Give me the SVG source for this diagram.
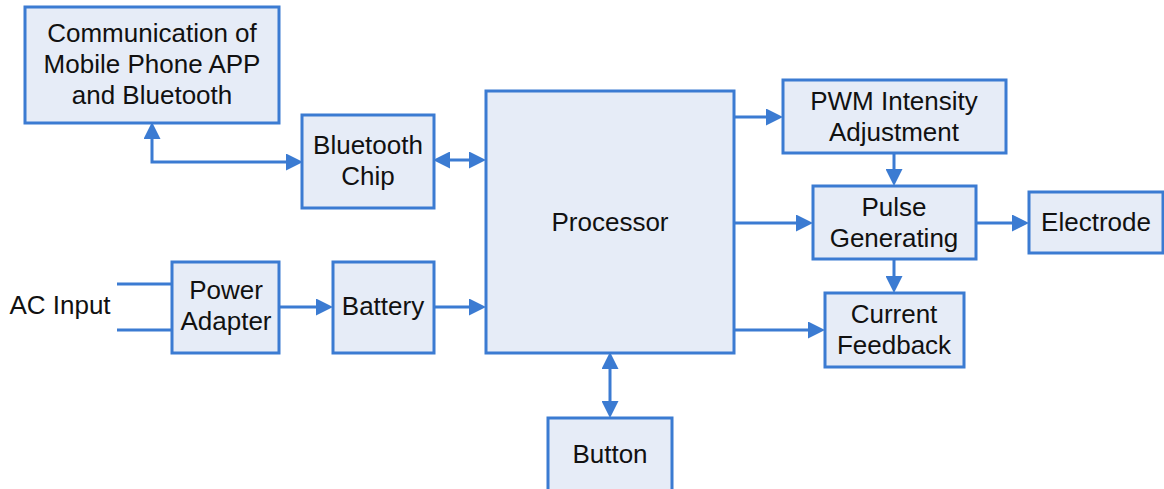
<svg xmlns="http://www.w3.org/2000/svg" width="1164" height="489" viewBox="0 0 1164 489">
<style>
.box{fill:#e6ecf7;stroke:#3b7bd2;stroke-width:3}
.lbl{font-family:"Liberation Sans",Arial,sans-serif;font-size:26px;fill:#111;text-anchor:middle}
.con{fill:none;stroke:#3b7bd2;stroke-width:3}
</style>
<defs>
<marker id="ah" markerUnits="userSpaceOnUse" markerWidth="17" markerHeight="17" refX="8" refY="8.5" orient="auto-start-reverse">
<path d="M0,0 L17,8.5 L0,17 z" fill="#3b7bd2"/>
</marker>
</defs>
<rect width="1164" height="489" fill="#fff"/>
<g id="connectors">
<path class="con" d="M152,131 V162 H294" marker-start="url(#ah)" marker-end="url(#ah)"/>
<path class="con" d="M442,160 H477" marker-start="url(#ah)" marker-end="url(#ah)"/>
<path class="con" d="M610,361 V409" marker-start="url(#ah)" marker-end="url(#ah)"/>
<path class="con" d="M117,284 H172 M117,330 H172"/>
<path class="con" d="M279,307 H324" marker-end="url(#ah)"/>
<path class="con" d="M434,307 H477" marker-end="url(#ah)"/>
<path class="con" d="M734,117 H774" marker-end="url(#ah)"/>
<path class="con" d="M894,153 V177" marker-end="url(#ah)"/>
<path class="con" d="M734,223 H804" marker-end="url(#ah)"/>
<path class="con" d="M976,223 H1020" marker-end="url(#ah)"/>
<path class="con" d="M894,259 V284" marker-end="url(#ah)"/>
<path class="con" d="M734,330 H816" marker-end="url(#ah)"/>
</g>
<g id="comm">
<rect class="box" x="25" y="7" width="254" height="116"/>
<text class="lbl" x="152" y="42">Communication of</text>
<text class="lbl" x="152" y="73">Mobile Phone APP</text>
<text class="lbl" x="152" y="104">and Bluetooth</text>
</g>
<g id="btchip">
<rect class="box" x="302" y="115" width="132" height="93"/>
<text class="lbl" x="368" y="154">Bluetooth</text>
<text class="lbl" x="368" y="185">Chip</text>
</g>
<g id="processor">
<rect class="box" x="486" y="91" width="248" height="262"/>
<text class="lbl" x="610" y="231">Processor</text>
</g>
<g id="acinput">
<text class="lbl" x="60" y="314">AC Input</text>
</g>
<g id="adapter">
<rect class="box" x="172" y="262" width="107" height="91"/>
<text class="lbl" x="226" y="299">Power</text>
<text class="lbl" x="226" y="330">Adapter</text>
</g>
<g id="battery">
<rect class="box" x="333" y="262" width="101" height="91"/>
<text class="lbl" x="383" y="315">Battery</text>
</g>
<g id="button">
<rect class="box" x="548" y="418" width="124" height="80"/>
<text class="lbl" x="610" y="463">Button</text>
</g>
<g id="pwm">
<rect class="box" x="783" y="80" width="223" height="73"/>
<text class="lbl" x="894" y="110">PWM Intensity</text>
<text class="lbl" x="894" y="141">Adjustment</text>
</g>
<g id="pulse">
<rect class="box" x="813" y="186" width="163" height="73"/>
<text class="lbl" x="894" y="216">Pulse</text>
<text class="lbl" x="894" y="247">Generating</text>
</g>
<g id="electrode">
<rect class="box" x="1029" y="192" width="134" height="61"/>
<text class="lbl" x="1096" y="231">Electrode</text>
</g>
<g id="current">
<rect class="box" x="825" y="293" width="139" height="74"/>
<text class="lbl" x="894" y="323">Current</text>
<text class="lbl" x="894" y="354">Feedback</text>
</g>
</svg>
